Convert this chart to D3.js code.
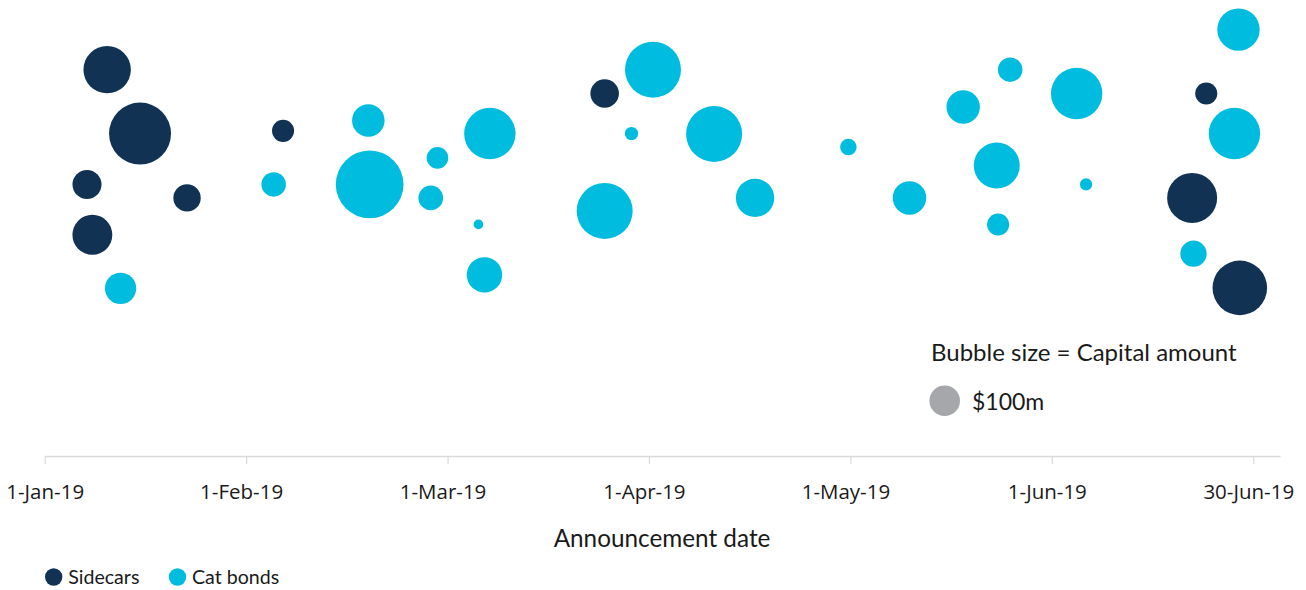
<!DOCTYPE html>
<html>
<head>
<meta charset="utf-8">
<script src="https://cdn.jsdelivr.net/npm/d3@7/dist/d3.min.js"></script>
<style>
  body { margin: 0; background: #fff; }
  svg { display: block; }
</style>
</head>
<body>
<svg id="chart" width="1306" height="590"></svg>
<script>
// Axis: days since 1 Jan 2019, labelled every 30 days
const tickDays = [0, 30, 60, 90, 120, 150, 180];
const tickLabels = ["1-Jan-19", "1-Feb-19", "1-Mar-19", "1-Apr-19", "1-May-19", "1-Jun-19", "30-Jun-19"];

// Sidecars: announcement day, vertical position (arbitrary, for spacing), capital ($m)
const sidecarDay     = [9.3, 14.2, 6.3, 7.1, 21.2, 35.5, 83.4, 173.0, 170.9, 178.0];
const sidecarPos     = [86.3, 72.1, 60.8, 49.6, 57.8, 72.7, 81.0, 81.0, 57.8, 37.8];
const sidecarCapital = [240, 410, 90, 170, 80, 52, 87, 52, 267, 318];

// Cat bonds
const catDay     = [11.3, 34.1, 48.2, 48.4, 58.5, 57.5, 64.6, 66.3, 65.5, 83.4, 87.4, 90.6, 99.7,
                    105.8, 119.7, 128.8, 136.8, 143.8, 141.8, 142.0, 153.7, 155.1, 171.1, 177.8, 177.2];
const catPos     = [37.7, 60.8, 75.0, 60.8, 66.7, 57.8, 51.9, 72.1, 40.7, 54.9, 72.1, 86.3, 72.0,
                    57.8, 69.1, 57.8, 78.0, 86.3, 65.0, 51.9, 81.0, 60.8, 45.4, 95.2, 72.1];
const catCapital = [105, 64, 113, 490, 50, 65, 10, 282, 134, 335, 19, 335, 335,
                    157, 29, 120, 119, 64, 226, 52, 282, 16, 74, 192, 282];

const seriesNames = ["Sidecars", "Cat bonds"];
const seriesColors = ["#113253", "#00bde0"];
const refCapital = 100;

const svg = d3.select("#chart");

const x = d3.scaleLinear().domain([0, 184]).range([44.7, 1280.1]);
const y = d3.scaleLinear().domain([0, 100]).range([458, 8]);
const r = d3.scaleSqrt().domain([0, 100]).range([0, 15.3]);

const series = [
  { name: seriesNames[0], color: seriesColors[0],
    points: sidecarDay.map((d, i) => ({ day: d, pos: sidecarPos[i], cap: sidecarCapital[i] })) },
  { name: seriesNames[1], color: seriesColors[1],
    points: catDay.map((d, i) => ({ day: d, pos: catPos[i], cap: catCapital[i] })) }
];

// Bubbles
const bubbles = svg.append("g");
series.forEach(s => {
  bubbles.selectAll(null)
    .data(s.points)
    .enter().append("circle")
    .attr("cx", d => x(d.day))
    .attr("cy", d => y(d.pos))
    .attr("r", d => r(d.cap))
    .attr("fill", s.color);
});

// X axis
const axisY = 456;
const xAxis = d3.axisBottom(x)
  .tickValues(tickDays)
  .tickFormat((d, i) => tickLabels[i])
  .tickSize(8)
  .tickSizeOuter(0)
  .tickPadding(20);

const gx = svg.append("g")
  .attr("transform", `translate(0,${axisY})`)
  .call(xAxis);
gx.select(".domain").attr("stroke", "#d9d9d9").attr("stroke-width", 1.5);
gx.selectAll(".tick line").attr("stroke", "#d9d9d9").attr("stroke-width", 1.2);
gx.selectAll(".tick text")
  .attr("fill", "#1a1a1a")
  .attr("dx", (d, i) => i === 0 ? 0 : -5)
  .style("font-family", "'Open Sans', sans-serif")
  .style("font-size", "20.5px");

// Axis title
svg.append("text")
  .attr("x", 662)
  .attr("y", 547)
  .attr("text-anchor", "middle")
  .attr("fill", "#1a1a1a")
  .style("font-family", "Lato, sans-serif")
  .style("font-size", "24.3px")
  .text("Announcement date");

// Bubble size key
svg.append("text")
  .attr("x", 931)
  .attr("y", 361)
  .attr("fill", "#1a1a1a")
  .style("font-family", "Lato, sans-serif")
  .style("font-size", "24px")
  .text("Bubble size = Capital amount");

svg.append("circle")
  .attr("cx", 944.7)
  .attr("cy", 400.7)
  .attr("r", r(refCapital))
  .attr("fill", "#a6a7ab");

svg.append("text")
  .attr("x", 972)
  .attr("y", 409.5)
  .attr("fill", "#1a1a1a")
  .style("font-family", "Lato, sans-serif")
  .style("font-size", "23px")
  .text("$" + refCapital + "m");

// Series legend
const legendX = [53.7, 177.5];
const legend = svg.append("g");
series.forEach((s, i) => {
  legend.append("circle")
    .attr("cx", legendX[i])
    .attr("cy", 577)
    .attr("r", 8.7)
    .attr("fill", s.color);
  legend.append("text")
    .attr("x", legendX[i] + 14.5)
    .attr("y", 584)
    .attr("fill", "#1a1a1a")
    .style("font-family", "Lato, sans-serif")
    .style("font-size", "19.6px")
    .text(s.name);
});
</script>
</body>
</html>
